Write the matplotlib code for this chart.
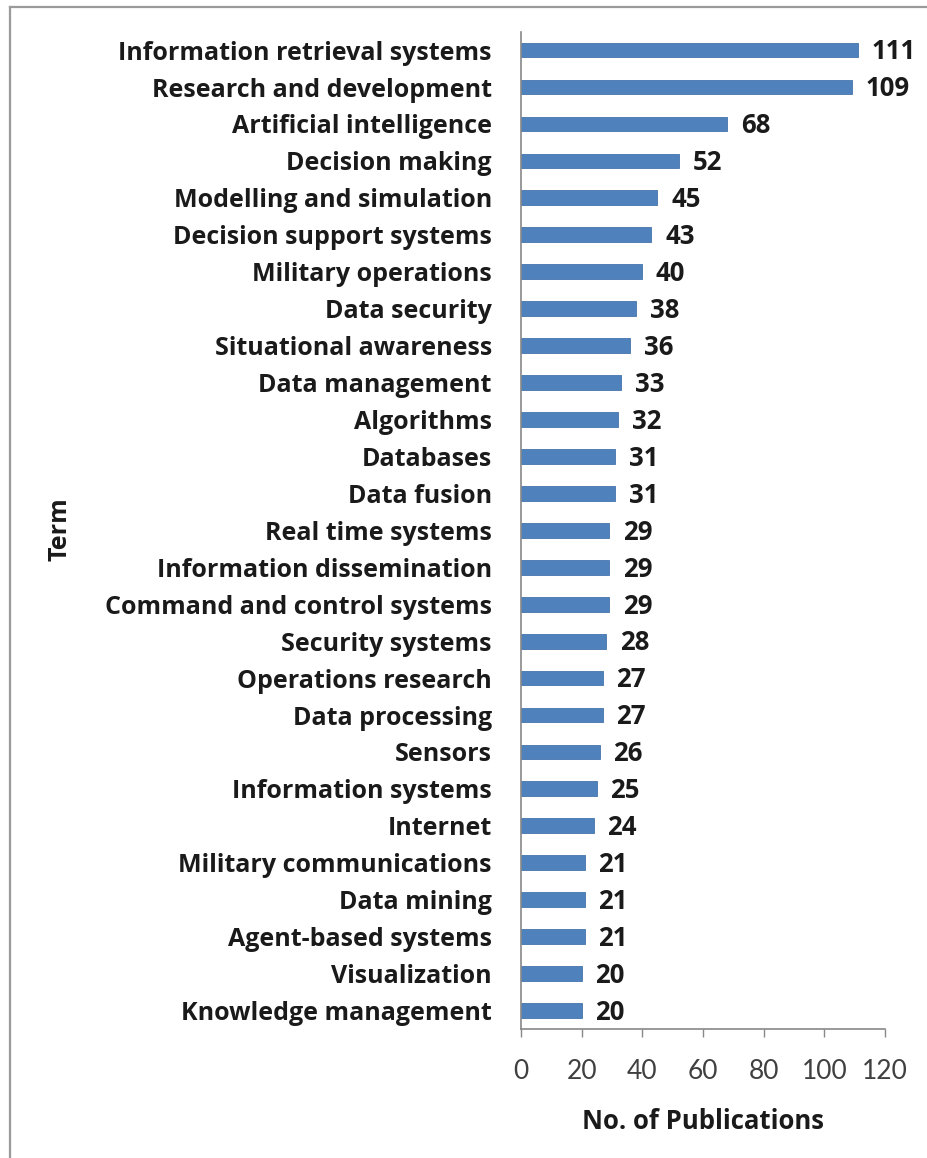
import matplotlib
matplotlib.use("Agg")
import matplotlib.pyplot as plt
from matplotlib.lines import Line2D

plt.rcParams['font.family'] = ['Open Sans', 'DejaVu Sans']

terms = ["Information retrieval systems", "Research and development",
         "Artificial intelligence", "Decision making",
         "Modelling and simulation", "Decision support systems",
         "Military operations", "Data security", "Situational awareness",
         "Data management", "Algorithms", "Databases", "Data fusion",
         "Real time systems", "Information dissemination",
         "Command and control systems", "Security systems",
         "Operations research", "Data processing", "Sensors",
         "Information systems", "Internet", "Military communications",
         "Data mining", "Agent-based systems", "Visualization",
         "Knowledge management"]
counts = [111, 109, 68, 52, 45, 43, 40, 38, 36, 33, 32, 31, 31, 29, 29, 29,
          28, 27, 27, 26, 25, 24, 21, 21, 21, 20, 20]
xticks = [0, 20, 40, 60, 80, 100, 120]

fig = plt.figure(figsize=(9.27, 11.58), dpi=100)
ax = fig.add_axes([0.562, 0.1114, 0.3927, 0.8613])

ypos = list(range(len(terms)))
ax.barh(ypos, counts, height=0.4, color='#4F81BD', edgecolor='#4574ad',
        linewidth=0.6)
ax.set_ylim(len(terms) - 0.5, -0.5)
ax.set_xlim(0, 120)

# value labels at the end of each bar
for y, v in zip(ypos, counts):
    ax.text(v + 4.5, y + 0.05, str(v), va='center', ha='left', fontsize=18.5,
            fontweight='bold', color='#1a1a1a')

ax.set_yticks(ypos)
ax.set_yticklabels(terms, fontsize=18, fontweight='bold', color='#1a1a1a')
ax.tick_params(axis='y', length=0, pad=21)
ax.set_xticks(xticks)
ax.set_xticklabels([str(t) for t in xticks], fontsize=19, color='#404040',
                   family=['Lato', 'DejaVu Sans'])
ax.tick_params(axis='x', direction='out', length=5.8, width=1,
               color='#888888', pad=16)

for s in ['top', 'right']:
    ax.spines[s].set_visible(False)
for s in ['left', 'bottom']:
    ax.spines[s].set_color('#888888')
    ax.spines[s].set_linewidth(1.2)

ax.set_xlabel('No. of Publications', fontsize=18.5, fontweight='bold',
              color='#1a1a1a', labelpad=17)
fig.text(60 / 927, 1 - 529 / 1158, 'Term', rotation=90, fontsize=18,
         fontweight='bold', color='#1a1a1a', ha='center', va='center')

# outer frame (top and left edges)
fig.add_artist(Line2D([9.5 / 927, 1], [1 - 7 / 1158, 1 - 7 / 1158],
                      transform=fig.transFigure, color='#9a9a9a', lw=1.6))
fig.add_artist(Line2D([9.5 / 927, 9.5 / 927], [0, 1 - 7 / 1158],
                      transform=fig.transFigure, color='#9a9a9a', lw=1.6))

fig.savefig('out.png', dpi=100)
